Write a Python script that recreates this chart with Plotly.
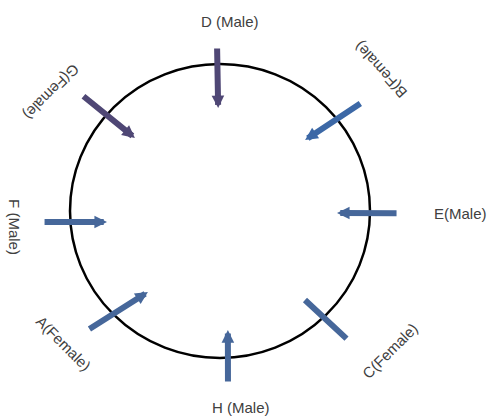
import math
import plotly.graph_objects as go

# ---- data -------------------------------------------------------------
seats = ["D (Male)", "B(Female)", "E(Male)", "C(Female)",
         "H (Male)", "A(Female)", "F (Male)", "G(Female)"]
gender = ["Male", "Female", "Male", "Female", "Male", "Female", "Male", "Female"]
# arrow tail (outside the table) and head (inside), polar: degrees, radius in table radii
tail_angle = [91.0, 38.0, -0.7, -45.8, -87.4, 222.6, 183.6, 139.4]
tail_r = [1.116, 1.200, 1.187, 1.224, 1.171, 1.196, 1.182, 1.212]
head_angle = [91.0, 40.4, -1.0, -46.9, -86.3, 228.9, 185.7, 138.8]
head_r = [0.700, 0.745, 0.780, 0.829, 0.812, 0.731, 0.757, 0.754]
has_head = [True, True, True, False, True, True, True, True]

# ---- layout / style -----------------------------------------------------
label_pos = {  # x, y (table radii), text angle
    "D (Male)": (0.067, 1.286, 0),
    "B(Female)": (1.067, 0.959, -132),
    "E(Male)": (1.600, -0.014, 0),
    "C(Female)": (1.133, -0.946, -45),
    "H (Male)": (0.140, -1.340, 0),
    "A(Female)": (-1.040, -0.898, 45),
    "F (Male)": (-1.367, -0.109, 90),
    "G(Female)": (-1.127, 0.810, 135),
}
arrow_color = {
    "D (Male)": "#4F4775", "G(Female)": "#4F4775",
    "B(Female)": "#3C68A6",
}
default_color = "#46679A"


def polar(a, r):
    t = math.radians(a)
    return r * math.cos(t), r * math.sin(t)


fig = go.Figure()
fig.add_shape(type="circle", xref="x", yref="y", x0=-1, y0=-1, x1=1, y1=1,
              line=dict(color="#000000", width=2.5))

annotations = []
for i, name in enumerate(seats):
    tx, ty = polar(tail_angle[i], tail_r[i])
    hx, hy = polar(head_angle[i], head_r[i])
    col = arrow_color.get(name, default_color)
    annotations.append(dict(
        x=hx, y=hy, ax=tx, ay=ty, xref="x", yref="y", axref="x", ayref="y",
        text="", showarrow=True, arrowhead=2 if has_head[i] else 0,
        arrowsize=0.42, arrowwidth=6, arrowcolor=col, standoff=0,
    ))
    lx, ly, ang = label_pos[name]
    annotations.append(dict(
        x=lx, y=ly, xref="x", yref="y", text=name, showarrow=False,
        textangle=ang, xanchor="center", yanchor="middle",
        font=dict(family="Liberation Sans, Arial, sans-serif", size=15, color="#404040"),
    ))

fig.update_layout(
    width=488, height=420,
    margin=dict(l=0, r=0, t=0, b=0),
    paper_bgcolor="white", plot_bgcolor="white",
    showlegend=False,
    annotations=annotations,
    xaxis=dict(range=[-220 / 150, 268 / 150], visible=False, fixedrange=True),
    yaxis=dict(range=[-209 / 147, 211 / 147], visible=False, fixedrange=True),
)

fig.write_html("out.html", config={"displayModeBar": False},
               post_script="document.body.style.margin='0';")
